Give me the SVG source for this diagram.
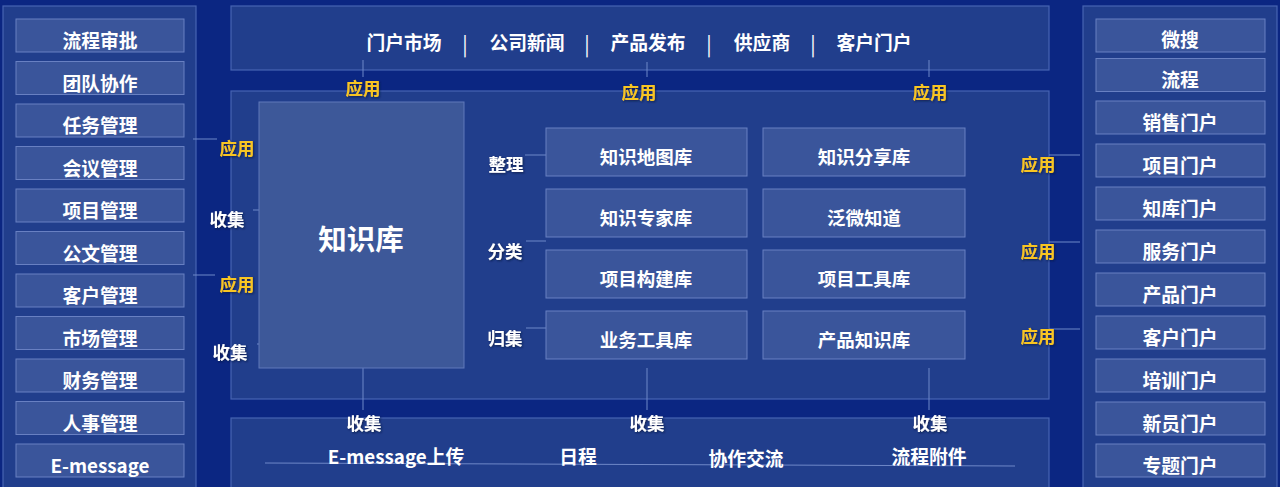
<svg xmlns="http://www.w3.org/2000/svg" width="1280" height="487" viewBox="0 0 1280 487">
<defs>
<style>
.bg{fill:#0b2682}
.panel{fill:#213e8c;stroke:#4764b2;stroke-width:1.2}
.item{fill:#3a559b;stroke:#6880c2;stroke-width:1}
.kb{fill:#3d5899;stroke:#6079ba;stroke-width:1}
text{font-family:"Noto Sans CJK SC","Noto Sans",sans-serif;font-weight:bold;text-anchor:middle}
.t{fill:#ffffff;font-size:18.8px}
.g{fill:#ffffff;font-size:18.5px}
.big{fill:#ffffff;font-size:28.5px}
.gold{fill:#f8c524;font-size:17.5px;filter:url(#sh)}
.lab{fill:#ffffff;font-size:17.5px;filter:url(#sh)}
.sep{fill:#ffffff;font-size:20px;font-weight:normal}
.ln{stroke:#6f88c8;stroke-width:1;fill:none}
</style>
<filter id="sh" x="-20%" y="-20%" width="140%" height="140%">
<feDropShadow dx="1" dy="1" stdDeviation="0.8" flood-color="#0a1440" flood-opacity="0.8"/>
</filter>
</defs>
<rect class="bg" x="0" y="0" width="1280" height="487"/>

<g id="left-panel">
<rect class="panel" x="3" y="6" width="193" height="495"/>
</g>
<g id="right-panel">
<rect class="panel" x="1083" y="6" width="194" height="495"/>
</g>
<g id="top-panel">
<rect class="panel" x="231" y="6" width="818" height="64"/>
<text class="t" x="404" y="50">门户市场</text>
<text class="sep" x="465" y="52">|</text>
<text class="t" x="527" y="50">公司新闻</text>
<text class="sep" x="587" y="52">|</text>
<text class="t" x="648" y="50">产品发布</text>
<text class="sep" x="709" y="52">|</text>
<text class="t" x="762" y="50">供应商</text>
<text class="sep" x="813" y="52">|</text>
<text class="t" x="874" y="50">客户门户</text>
</g>
<g id="middle-panel">
<rect class="panel" x="231" y="91" width="818" height="308"/>
</g>
<g id="bottom-panel">
<rect class="panel" x="231" y="418" width="818" height="80"/>
</g>

<g id="connectors">
<line class="ln" x1="193" y1="139" x2="217" y2="139"/>
<line class="ln" x1="193" y1="275" x2="215" y2="275"/>
<line class="ln" x1="253" y1="210" x2="273" y2="210"/>
<line class="ln" x1="257" y1="344" x2="272" y2="344"/>
<line class="ln" x1="1049" y1="155" x2="1080" y2="155"/>
<line class="ln" x1="1049" y1="242" x2="1080" y2="242"/>
<line class="ln" x1="1049" y1="329" x2="1080" y2="329"/>
<line class="ln" x1="363" y1="60" x2="363" y2="77"/>
<line class="ln" x1="647" y1="62" x2="647" y2="77"/>
<line class="ln" x1="929" y1="60" x2="929" y2="77"/>
<line class="ln" x1="525" y1="155" x2="546" y2="155"/>
<line class="ln" x1="526" y1="241" x2="546" y2="241"/>
<line class="ln" x1="526" y1="328" x2="546" y2="328"/>
<line class="ln" x1="363" y1="368" x2="363" y2="410"/>
<line class="ln" x1="647" y1="368" x2="647" y2="410"/>
<line class="ln" x1="929" y1="368" x2="929" y2="410"/>
<line class="ln" x1="265" y1="463" x2="1015" y2="466"/>
</g>

<g id="left-items">
<g id="l1"><rect class="item" x="16" y="19" width="168" height="33"/><text class="t" x="100" y="48">流程审批</text></g>
<g id="l2"><rect class="item" x="16" y="61.5" width="168" height="33"/><text class="t" x="100" y="90.5">团队协作</text></g>
<g id="l3"><rect class="item" x="16" y="104" width="168" height="33"/><text class="t" x="100" y="133">任务管理</text></g>
<g id="l4"><rect class="item" x="16" y="146.5" width="168" height="33"/><text class="t" x="100" y="175.5">会议管理</text></g>
<g id="l5"><rect class="item" x="16" y="189" width="168" height="33"/><text class="t" x="100" y="218">项目管理</text></g>
<g id="l6"><rect class="item" x="16" y="231.5" width="168" height="33"/><text class="t" x="100" y="260.5">公文管理</text></g>
<g id="l7"><rect class="item" x="16" y="274" width="168" height="33"/><text class="t" x="100" y="303">客户管理</text></g>
<g id="l8"><rect class="item" x="16" y="316.5" width="168" height="33"/><text class="t" x="100" y="345.5">市场管理</text></g>
<g id="l9"><rect class="item" x="16" y="359" width="168" height="33"/><text class="t" x="100" y="388">财务管理</text></g>
<g id="l10"><rect class="item" x="16" y="401.5" width="168" height="33"/><text class="t" x="100" y="430.5">人事管理</text></g>
<g id="l11"><rect class="item" x="16" y="444" width="168" height="33"/><text class="t" x="100" y="473">E-message</text></g>
</g>

<g id="right-items">
<g id="r1"><rect class="item" x="1096" y="19" width="169" height="33"/><text class="t" x="1180" y="47">微搜</text></g>
<g id="r2"><rect class="item" x="1096" y="58.5" width="169" height="33"/><text class="t" x="1180" y="87">流程</text></g>
<g id="r3"><rect class="item" x="1096" y="101" width="169" height="33"/><text class="t" x="1180" y="130">销售门户</text></g>
<g id="r4"><rect class="item" x="1096" y="144" width="169" height="33"/><text class="t" x="1180" y="173">项目门户</text></g>
<g id="r5"><rect class="item" x="1096" y="187" width="169" height="33"/><text class="t" x="1180" y="216">知库门户</text></g>
<g id="r6"><rect class="item" x="1096" y="230" width="169" height="33"/><text class="t" x="1180" y="259">服务门户</text></g>
<g id="r7"><rect class="item" x="1096" y="273" width="169" height="33"/><text class="t" x="1180" y="302">产品门户</text></g>
<g id="r8"><rect class="item" x="1096" y="316" width="169" height="33"/><text class="t" x="1180" y="345">客户门户</text></g>
<g id="r9"><rect class="item" x="1096" y="359" width="169" height="33"/><text class="t" x="1180" y="388">培训门户</text></g>
<g id="r10"><rect class="item" x="1096" y="402" width="169" height="33"/><text class="t" x="1180" y="431">新员门户</text></g>
<g id="r11"><rect class="item" x="1096" y="444" width="169" height="33"/><text class="t" x="1180" y="473">专题门户</text></g>
</g>

<g id="knowledge-base">
<rect class="kb" x="259" y="102" width="205" height="266"/>
<text class="big" x="361" y="250">知识库</text>
</g>

<g id="grid">
<g id="g1"><rect class="item" x="546" y="128" width="201" height="48"/><text class="g" x="646" y="164">知识地图库</text></g>
<g id="g2"><rect class="item" x="763" y="128" width="202" height="48"/><text class="g" x="864" y="164">知识分享库</text></g>
<g id="g3"><rect class="item" x="546" y="189" width="201" height="48"/><text class="g" x="646" y="225">知识专家库</text></g>
<g id="g4"><rect class="item" x="763" y="189" width="202" height="48"/><text class="g" x="864" y="225">泛微知道</text></g>
<g id="g5"><rect class="item" x="546" y="250" width="201" height="48"/><text class="g" x="646" y="286">项目构建库</text></g>
<g id="g6"><rect class="item" x="763" y="250" width="202" height="48"/><text class="g" x="864" y="286">项目工具库</text></g>
<g id="g7"><rect class="item" x="546" y="311" width="201" height="48"/><text class="g" x="646" y="347">业务工具库</text></g>
<g id="g8"><rect class="item" x="763" y="311" width="202" height="48"/><text class="g" x="864" y="347">产品知识库</text></g>
</g>

<g id="labels">
<text class="gold" x="363" y="95">应用</text>
<text class="gold" x="639" y="99">应用</text>
<text class="gold" x="930" y="99">应用</text>
<text class="gold" x="237" y="155">应用</text>
<text class="gold" x="237" y="291">应用</text>
<text class="gold" x="1038" y="171">应用</text>
<text class="gold" x="1038" y="258">应用</text>
<text class="gold" x="1038" y="343">应用</text>
<text class="lab" x="227" y="226">收集</text>
<text class="lab" x="230" y="359">收集</text>
<text class="lab" x="364" y="430">收集</text>
<text class="lab" x="647" y="430">收集</text>
<text class="lab" x="930" y="430">收集</text>
<text class="lab" x="506" y="171">整理</text>
<text class="lab" x="505" y="258">分类</text>
<text class="lab" x="505" y="345">归集</text>
</g>

<g id="bottom-texts">
<text class="t" x="396" y="464">E-message上传</text>
<text class="t" x="578" y="464">日程</text>
<text class="t" x="746" y="466">协作交流</text>
<text class="t" x="929" y="464">流程附件</text>
</g>
</svg>
